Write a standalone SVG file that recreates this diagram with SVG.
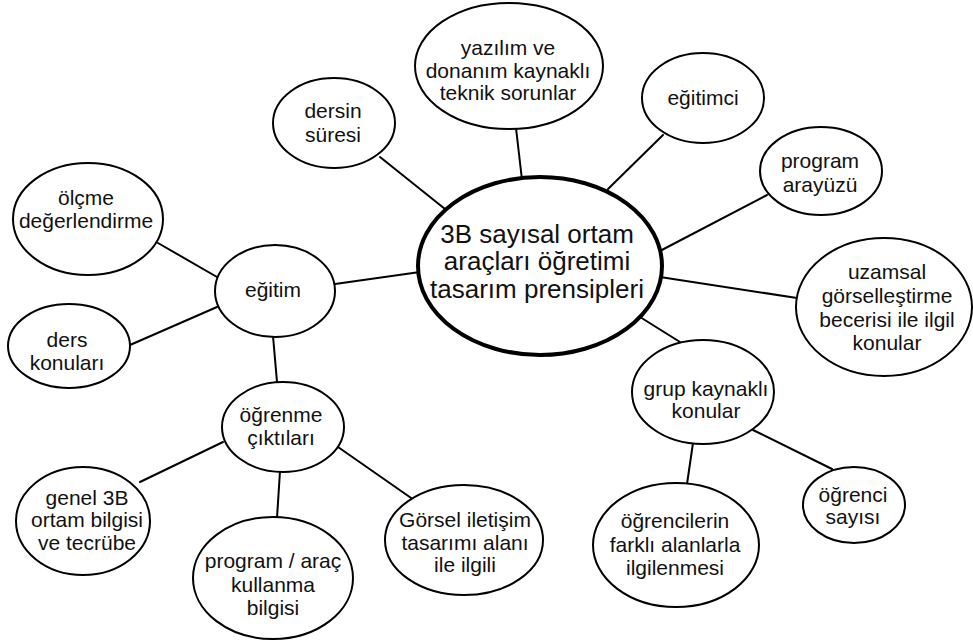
<svg xmlns="http://www.w3.org/2000/svg" width="973" height="643" viewBox="0 0 973 643">
<style>
.bg{fill:#fff}
.conn line{stroke:#000;stroke-width:2;stroke-linecap:round}
.node ellipse{fill:#fff;stroke:#000;stroke-width:2}
.main ellipse{stroke-width:4}
text{font-family:"Liberation Sans",Arial,Helvetica,sans-serif;font-size:21px;fill:#111;text-anchor:middle}
.main text{font-size:26px}
</style>
<rect class="bg" x="0" y="0" width="973" height="643"/>
<g id="connectors" class="conn">
<line x1="380" y1="157" x2="445" y2="209"/>
<line x1="516" y1="128" x2="522" y2="180"/>
<line x1="663" y1="135" x2="608" y2="189"/>
<line x1="767" y1="195" x2="658" y2="252"/>
<line x1="660" y1="277" x2="797" y2="298"/>
<line x1="640" y1="317" x2="680" y2="342"/>
<line x1="335" y1="284" x2="420" y2="272"/>
<line x1="158" y1="243" x2="217" y2="277"/>
<line x1="130" y1="345" x2="217" y2="307"/>
<line x1="273" y1="336" x2="277" y2="382"/>
<line x1="223" y1="442" x2="140" y2="482"/>
<line x1="280" y1="471" x2="277" y2="518"/>
<line x1="338" y1="447" x2="414" y2="500"/>
<line x1="693" y1="443" x2="687" y2="484"/>
<line x1="753" y1="430" x2="832" y2="469"/>
</g>
<g id="n-center" class="node main">
<ellipse cx="540" cy="266" rx="122" ry="89"/>
<text x="537" y="243">3B sayısal ortam</text>
<text x="537" y="270">araçları öğretimi</text>
<text x="537" y="298">tasarım prensipleri</text>
</g>
<g id="n-dersin" class="node">
<ellipse cx="334" cy="123" rx="61" ry="45"/>
<text x="333" y="118">dersin</text>
<text x="333" y="142">süresi</text>
</g>
<g id="n-yazilim" class="node">
<ellipse cx="509" cy="66" rx="94" ry="63"/>
<text x="508" y="55">yazılım ve</text>
<text x="508" y="78">donanım kaynaklı</text>
<text x="508" y="100">teknik sorunlar</text>
</g>
<g id="n-egitimci" class="node">
<ellipse cx="703" cy="98" rx="61" ry="45"/>
<text x="703" y="105">eğitimci</text>
</g>
<g id="n-arayuz" class="node">
<ellipse cx="821" cy="171" rx="61" ry="44"/>
<text x="820" y="168">program</text>
<text x="820" y="192">arayüzü</text>
</g>
<g id="n-uzamsal" class="node">
<ellipse cx="884" cy="307" rx="88" ry="69"/>
<text x="887" y="279">uzamsal</text>
<text x="887" y="303">görselleştirme</text>
<text x="887" y="327">becerisi ile ilgil</text>
<text x="887" y="350">konular</text>
</g>
<g id="n-grup" class="node">
<ellipse cx="703" cy="392" rx="71" ry="52"/>
<text x="706" y="396">grup kaynaklı</text>
<text x="706" y="418">konular</text>
</g>
<g id="n-ogrenci" class="node">
<ellipse cx="854" cy="505" rx="51" ry="38"/>
<text x="853" y="502">öğrenci</text>
<text x="853" y="524">sayısı</text>
</g>
<g id="n-ogrencilerin" class="node">
<ellipse cx="676" cy="545" rx="83" ry="62"/>
<text x="675" y="528">öğrencilerin</text>
<text x="675" y="552">farklı alanlarla</text>
<text x="675" y="575">ilgilenmesi</text>
</g>
<g id="n-olcme" class="node">
<ellipse cx="88" cy="219" rx="75" ry="56"/>
<text x="86" y="205">ölçme</text>
<text x="86" y="228">değerlendirme</text>
</g>
<g id="n-egitim" class="node">
<ellipse cx="275" cy="291" rx="60" ry="46"/>
<text x="273" y="297">eğitim</text>
</g>
<g id="n-ders" class="node">
<ellipse cx="69" cy="346" rx="61" ry="42"/>
<text x="67" y="347">ders</text>
<text x="67" y="370">konuları</text>
</g>
<g id="n-ogrenme" class="node">
<ellipse cx="283" cy="427" rx="61" ry="45"/>
<text x="281" y="422">öğrenme</text>
<text x="281" y="445">çıktıları</text>
</g>
<g id="n-genel" class="node">
<ellipse cx="83" cy="521" rx="67" ry="54"/>
<text x="87" y="505">genel 3B</text>
<text x="87" y="527">ortam bilgisi</text>
<text x="87" y="550">ve tecrübe</text>
</g>
<g id="n-program" class="node">
<ellipse cx="273" cy="578" rx="80" ry="61"/>
<text x="273" y="568">program / araç</text>
<text x="273" y="592">kullanma</text>
<text x="273" y="615">bilgisi</text>
</g>
<g id="n-gorsel" class="node">
<ellipse cx="464" cy="540" rx="79" ry="55"/>
<text x="465" y="527">Görsel iletişim</text>
<text x="465" y="550">tasarımı alanı</text>
<text x="465" y="572">ile ilgili</text>
</g>
</svg>
